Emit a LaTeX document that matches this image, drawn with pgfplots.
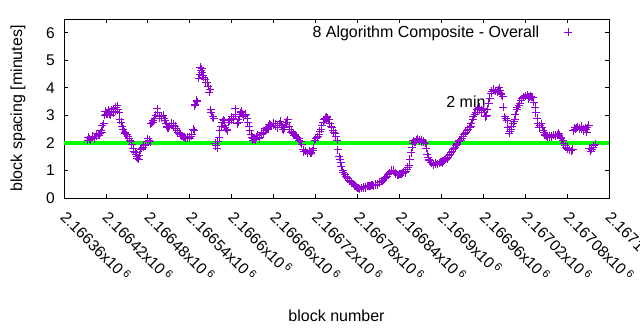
\documentclass[border=0pt]{standalone}
\usepackage{fontspec}
\setmainfont{Liberation Sans}
\usepackage{pgfplots}
\usepackage{pgfplotstable}
\pgfplotsset{compat=1.18}
\definecolor{gpviolet}{HTML}{9400D3}
\definecolor{gpgreen}{HTML}{00FF00}
\pgfplotstableread{
x y
2166394 2.10
2166397 2.15
2166400 2.20
2166403 2.18
2166406 2.25
2166409 2.30
2166412 2.35
2166414 2.40
2166417 2.70
2166419 3.15
2166422 3.05
2166424 3.20
2166427 3.00
2166430 3.25
2166433 3.15
2166436 3.35
2166439 3.10
2166442 2.75
2166444 2.50
2166447 2.40
2166450 2.30
2166453 2.15
2166456 2.05
2166459 1.80
2166462 1.65
2166464 1.50
2166467 1.40
2166470 1.75
2166473 1.85
2166476 1.90
2166479 2.05
2166482 2.10
2166484 2.70
2166487 2.75
2166490 2.90
2166493 3.25
2166496 2.95
2166499 2.90
2166502 3.00
2166505 2.80
2166507 2.60
2166510 2.55
2166513 2.65
2166516 2.70
2166519 2.60
2166522 2.45
2166525 2.35
2166527 2.30
2166530 2.25
2166533 2.20
2166536 2.18
2166539 2.20
2166542 2.25
2166545 2.50
2166547 3.35
2166550 3.55
2166553 4.35
2166555 4.75
2166556 4.65
2166559 4.45
2166562 4.30
2166565 4.20
2166568 3.85
2166570 3.20
2166573 2.95
2166576 2.00
2166579 1.80
2166582 2.20
2166585 2.60
2166588 2.85
2166590 2.65
2166593 2.50
2166596 2.75
2166599 2.85
2166602 2.90
2166605 3.25
2166608 2.70
2166610 2.75
2166613 3.10
2166616 3.05
2166619 3.00
2166622 2.90
2166625 2.60
2166628 2.30
2166630 2.10
2166633 2.15
2166636 2.20
2166639 2.15
2166642 2.30
2166645 2.35
2166648 2.45
2166651 2.55
2166653 2.60
2166656 2.65
2166659 2.65
2166662 2.70
2166665 2.55
2166668 2.70
2166671 2.65
2166673 2.50
2166676 2.55
2166679 2.75
2166682 2.60
2166685 2.40
2166688 2.35
2166691 2.30
2166693 2.20
2166696 2.15
2166699 2.05
2166702 1.75
2166705 1.70
2166708 1.65
2166711 1.70
2166713 1.65
2166716 1.72
2166719 2.10
2166722 2.20
2166725 2.30
2166728 2.50
2166731 2.75
2166734 2.90
2166736 2.95
2166739 2.85
2166742 2.60
2166745 2.45
2166748 2.35
2166751 2.10
2166754 1.50
2166756 1.30
2166759 1.00
2166762 0.85
2166765 0.75
2166768 0.65
2166771 0.58
2166774 0.52
2166776 0.45
2166779 0.40
2166782 0.36
2166785 0.35
2166788 0.37
2166791 0.40
2166794 0.42
2166796 0.44
2166799 0.45
2166802 0.47
2166805 0.46
2166808 0.48
2166811 0.55
2166814 0.60
2166817 0.65
2166819 0.72
2166822 0.80
2166825 0.88
2166828 0.98
2166831 1.02
2166834 0.92
2166837 0.85
2166839 0.82
2166842 0.88
2166845 0.90
2166848 0.92
2166851 1.05
2166854 1.20
2166857 1.65
2166859 2.00
2166862 2.05
2166865 2.10
2166868 2.12
2166871 2.05
2166874 2.08
2166877 2.00
2166880 1.60
2166882 1.40
2166885 1.30
2166888 1.25
2166891 1.22
2166894 1.25
2166897 1.28
2166900 1.30
2166902 1.33
2166905 1.38
2166908 1.42
2166911 1.55
2166914 1.65
2166917 1.75
2166920 1.85
2166922 1.95
2166925 2.05
2166928 2.10
2166931 2.25
2166934 2.35
2166937 2.45
2166940 2.55
2166942 2.60
2166945 2.85
2166948 3.05
2166951 3.20
2166954 3.30
2166957 3.10
2166960 3.25
2166963 2.95
2166965 3.00
2166968 3.45
2166971 3.80
2166974 3.95
2166977 3.90
2166980 3.85
2166983 4.00
2166985 3.80
2166988 3.70
2166991 2.95
2166994 2.80
2166997 2.35
2167000 2.50
2167003 2.70
2167005 2.85
2167008 3.20
2167011 3.35
2167014 3.55
2167017 3.65
2167020 3.70
2167023 3.75
2167025 3.60
2167028 3.70
2167031 3.65
2167034 3.30
2167037 2.90
2167040 2.55
2167043 2.70
2167046 2.45
2167048 2.30
2167051 2.25
2167054 2.20
2167057 2.20
2167060 2.30
2167063 2.25
2167066 2.30
2167068 2.35
2167071 2.20
2167074 2.10
2167077 1.90
2167080 1.80
2167083 1.75
2167086 1.72
2167088 1.78
2167091 2.55
2167094 2.55
2167097 2.50
2167100 2.60
2167103 2.45
2167106 2.55
2167108 2.40
2167111 2.65
2167114 1.70
2167117 1.85
2167120 1.95
}\blockdata
\pgfplotstableread{
x y
2166395 2.20
2166398 2.12
2166401 2.25
2166404 2.15
2166407 2.33
2166410 2.28
2166413 2.45
2166415 2.62
2166418 3.00
2166420 3.05
2166423 3.15
2166425 3.05
2166428 3.20
2166431 3.10
2166434 3.30
2166437 3.20
2166440 2.85
2166443 2.60
2166445 2.50
2166448 2.33
2166451 2.25
2166454 2.08
2166457 1.95
2166460 1.70
2166463 1.60
2166465 1.45
2166468 1.55
2166471 1.80
2166474 1.90
2166477 1.95
2166480 2.15
2166483 2.05
2166485 2.72
2166488 2.80
2166491 3.00
2166494 3.10
2166497 2.90
2166500 2.98
2166503 2.88
2166506 2.70
2166508 2.55
2166511 2.62
2166514 2.72
2166517 2.62
2166520 2.52
2166523 2.40
2166526 2.32
2166528 2.25
2166531 2.22
2166534 2.17
2166537 2.22
2166540 2.18
2166543 2.30
2166546 2.45
2166548 3.40
2166551 3.50
2166554 4.50
2166557 4.70
2166558 4.55
2166560 4.38
2166563 4.20
2166566 4.05
2166569 3.95
2166571 3.10
2166574 2.90
2166577 1.90
2166580 2.05
2166583 2.45
2166586 2.75
2166589 2.80
2166591 2.55
2166594 2.45
2166597 2.80
2166600 2.95
2166603 2.85
2166606 3.05
2166609 2.85
2166611 2.95
2166614 3.15
2166617 2.95
2166620 3.05
2166623 2.75
2166626 2.45
2166629 2.20
2166631 2.15
2166634 2.12
2166637 2.28
2166640 2.20
2166643 2.38
2166646 2.40
2166649 2.52
2166652 2.50
2166654 2.68
2166657 2.60
2166660 2.72
2166663 2.62
2166666 2.62
2166669 2.78
2166672 2.58
2166674 2.48
2166677 2.68
2166680 2.85
2166683 2.50
2166686 2.42
2166689 2.28
2166692 2.25
2166694 2.18
2166697 2.10
2166700 1.95
2166703 1.68
2166706 1.72
2166709 1.62
2166712 1.68
2166714 1.62
2166717 1.80
2166720 2.15
2166723 2.22
2166726 2.42
2166729 2.62
2166732 2.85
2166735 2.88
2166737 2.92
2166740 2.72
2166743 2.55
2166746 2.40
2166749 2.22
2166752 1.75
2166755 1.40
2166757 1.15
2166760 0.92
2166763 0.80
2166766 0.70
2166769 0.62
2166772 0.55
2166775 0.48
2166777 0.42
2166780 0.38
2166783 0.33
2166786 0.38
2166789 0.41
2166792 0.38
2166795 0.45
2166797 0.42
2166800 0.48
2166803 0.44
2166806 0.50
2166809 0.50
2166812 0.58
2166815 0.62
2166818 0.70
2166820 0.75
2166823 0.85
2166826 0.92
2166829 1.00
2166832 0.97
2166835 0.88
2166838 0.82
2166840 0.86
2166843 0.88
2166846 0.95
2166849 0.98
2166852 1.12
2166855 1.40
2166858 1.85
2166860 2.08
2166863 2.02
2166866 2.15
2166869 2.08
2166872 2.12
2166875 2.02
2166878 1.80
2166881 1.48
2166883 1.35
2166886 1.28
2166889 1.20
2166892 1.27
2166895 1.22
2166898 1.32
2166901 1.28
2166903 1.36
2166906 1.40
2166909 1.48
2166912 1.60
2166915 1.70
2166918 1.80
2166921 1.90
2166923 2.00
2166926 2.08
2166929 2.18
2166932 2.30
2166935 2.40
2166938 2.50
2166941 2.58
2166943 2.72
2166946 2.95
2166949 3.12
2166952 3.25
2166955 3.20
2166958 3.18
2166961 3.10
2166964 2.98
2166966 3.22
2166969 3.62
2166972 3.88
2166975 3.92
2166978 3.88
2166981 3.92
2166984 3.90
2166986 3.75
2166989 3.30
2166992 2.88
2166995 2.55
2166998 2.42
2167001 2.60
2167004 2.78
2167006 3.02
2167009 3.28
2167012 3.45
2167015 3.60
2167018 3.68
2167021 3.72
2167024 3.68
2167026 3.65
2167029 3.68
2167032 3.48
2167035 3.10
2167038 2.72
2167041 2.62
2167044 2.58
2167047 2.38
2167049 2.28
2167052 2.22
2167055 2.25
2167058 2.25
2167061 2.28
2167064 2.28
2167067 2.32
2167069 2.28
2167072 2.15
2167075 2.00
2167078 1.85
2167081 1.78
2167084 1.73
2167087 1.75
2167089 2.45
2167092 2.50
2167095 2.58
2167098 2.55
2167101 2.52
2167104 2.50
2167107 2.48
2167109 2.55
2167112 1.80
2167115 1.78
2167118 1.90
}\blockdatamid
\begin{document}
\begin{tikzpicture}[font=\fontsize{16bp}{19bp}\selectfont]
\begin{axis}[
  scale only axis,
  width=545bp, height=179bp,
  xmin=2166360, xmax=2167140,
  ymin=0, ymax=6.5,
  scaled ticks=false,
  xtick={2166360,2166420,2166480,2166540,2166600,2166660,2166720,2166780,2166840,2166900,2166960,2167020,2167080,2167140},
  xticklabels={2.16636x10\,\textsuperscript{6},2.16642x10\,\textsuperscript{6},2.16648x10\,\textsuperscript{6},2.16654x10\,\textsuperscript{6},2.1666x10\,\textsuperscript{6},2.16666x10\,\textsuperscript{6},2.16672x10\,\textsuperscript{6},2.16678x10\,\textsuperscript{6},2.16684x10\,\textsuperscript{6},2.1669x10\,\textsuperscript{6},2.16696x10\,\textsuperscript{6},2.16702x10\,\textsuperscript{6},2.16708x10\,\textsuperscript{6},2.16714x10\,\textsuperscript{6}},
  ytick={0,1,2,3,4,5,6},
  /pgf/number format/assume math mode=true,
  tick align=inside,
  major tick length=4bp,
  tick style={black, line width=0.8bp},
  axis line style={black, line width=0.8bp},
  xticklabel style={yshift=-16bp, rotate=-45, anchor=west, inner sep=0pt, font=\fontsize{15.5bp}{18bp}\selectfont},
  yticklabel style={xshift=-9bp, anchor=east, inner sep=0pt, font=\fontsize{15.5bp}{18bp}\selectfont},
  xlabel={block number},
  ylabel={block spacing [minutes]},
  every axis x label/.style={at={(axis description cs:0.5,0)}, yshift=-118bp, anchor=center},
  every axis y label/.style={at={(axis description cs:0,0.5)}, xshift=-46bp, rotate=90, anchor=center},
  legend plot pos=right,
  legend cell align=right,
  legend style={draw=none, fill=none, at={(axis description cs:0.933,0.927)}, anchor=east, inner sep=0pt, column sep=25bp, nodes={inner sep=0pt, font=\fontsize{16bp}{19bp}\selectfont}},
  clip=true,
]
\addplot[only marks, mark=+, mark size=4bp, color=gpviolet, mark options={draw=gpviolet, solid, line width=0.8bp}] table[x=x, y=y] {\blockdata};
\addlegendentry{8 Algorithm Composite - Overall}
\addplot[only marks, mark=+, mark size=4bp, color=gpviolet, mark options={draw=gpviolet, solid, line width=0.8bp}, forget plot] table[x=x, y=y] {\blockdatamid};
\addplot[gpgreen, line width=4bp, forget plot] coordinates {(2166360,2) (2167140,2)};
\node[anchor=west, inner sep=0pt] at (axis cs:2166907,3.5) {2 min};
\end{axis}
\pgfresetboundingbox
\path ([xshift=-64bp,yshift=-132bp]current axis.south west) rectangle ([xshift=31bp,yshift=19bp]current axis.north east);
\end{tikzpicture}
\end{document}
